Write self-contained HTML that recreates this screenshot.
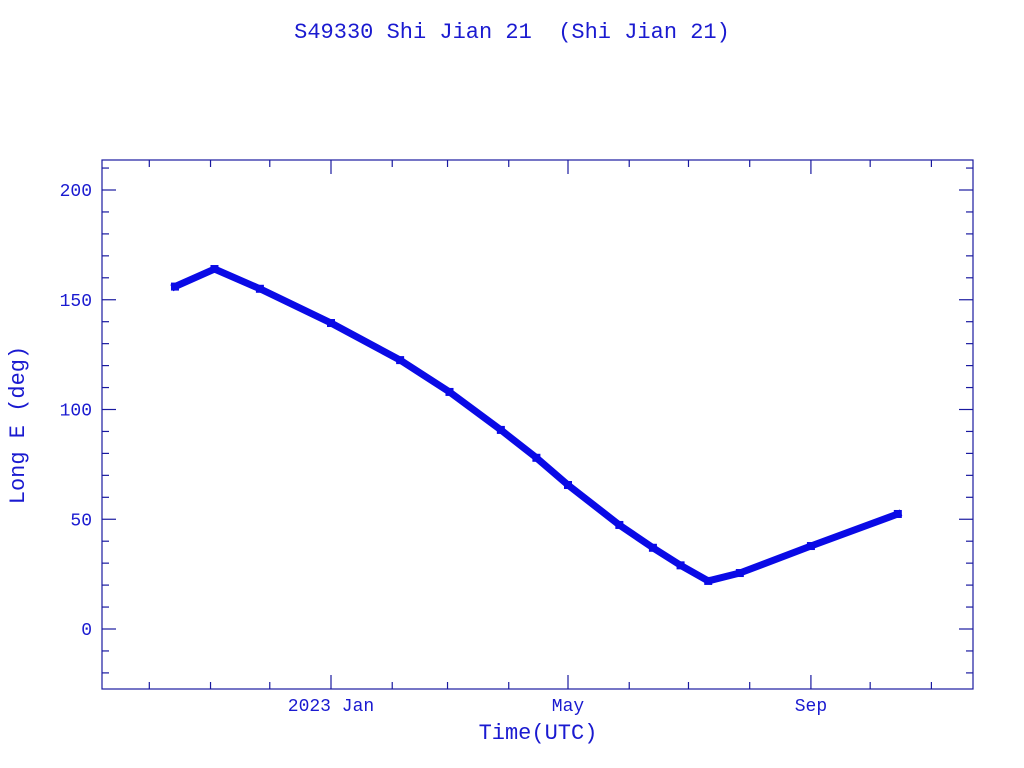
<!DOCTYPE html>
<html><head><meta charset="utf-8"><style>
body{margin:0;background:#fff;}
svg{display:block;font-family:"Liberation Mono",monospace;}
</style></head><body>
<svg id="chart" width="1024" height="768">
<text x="512" y="38" text-anchor="middle" font-size="22" fill="#1a1ad0" xml:space="preserve" style="white-space:pre">S49330 Shi Jian 21  (Shi Jian 21)</text>
<rect x="102" y="160" width="871" height="529" fill="none" stroke="#1a1aa0" stroke-width="1.2"/>
<g id="axes"></g>
<g id="series"></g>
<text x="538" y="739" text-anchor="middle" font-size="22" fill="#1a1ad0">Time(UTC)</text>
<text transform="translate(24,425) rotate(-90)" text-anchor="middle" font-size="22" fill="#1a1ad0">Long E (deg)</text>
</svg>
<script>
const days=[-79,-59,-36,0,35,60,86,104,120,146,163,177,191,207,243,287];
const longE=[156,164,155,139.4,122.5,108,90.7,78,65.6,47.4,37,29,21.9,25.5,37.8,52.4];
const yTicks=[0,50,100,150,200];
const xTickDays=[0,120,243];
const xTickLabels=["2023 Jan","May","Sep"];
const xMinorDays=[-92,-61,-31,31,59,90,151,181,212,273,304];
const NS="http://www.w3.org/2000/svg";
const X0=102,X1=973,Y0=160,Y1=689;
const xs=d=>331+d*1.975;
const ys=v=>629-v*2.195;
const axes=document.getElementById('axes'),series=document.getElementById('series');
function mk(tag,attrs,parent){const e=document.createElementNS(NS,tag);for(const k in attrs)e.setAttribute(k,attrs[k]);parent.appendChild(e);return e;}
const col="#1a1aa0";
for(let v=-20;v<=210;v+=10){
  const y=ys(v);if(y<Y0||y>Y1)continue;
  const major=v%50===0;const L=major?14:7;
  const t1=mk('line',{x1:X0,x2:X0+L,y1:y,y2:y,stroke:col,'stroke-width':1.2},axes);
  
  
  const t2=mk('line',{x1:X1-L,x2:X1,y1:y,y2:y,stroke:col,'stroke-width':1.2},axes);
  
  
}
yTicks.forEach(v=>{
  const t=mk('text',{x:92,y:ys(v)+6,'text-anchor':'end','font-size':18,fill:'#1a1ad0'},axes);
  t.textContent=v;
  
  
});
xMinorDays.forEach(d=>{
  const x=xs(d);
  if(x<=X0||x>=X1)return;
  const a=mk('line',{x1:x,x2:x,y1:Y1,y2:Y1-7,stroke:col,'stroke-width':1.2},axes);
  
  
  const b=mk('line',{x1:x,x2:x,y1:Y0,y2:Y0+7,stroke:col,'stroke-width':1.2},axes);
  
  
});
xTickDays.forEach((d,i)=>{
  const x=xs(d);
  const a=mk('line',{x1:x,x2:x,y1:Y1,y2:Y1-14,stroke:col,'stroke-width':1.2},axes);
  
  
  const b=mk('line',{x1:x,x2:x,y1:Y0,y2:Y0+14,stroke:col,'stroke-width':1.2},axes);
  
  
  const t=mk('text',{x:x,y:711,'text-anchor':'middle','font-size':18,fill:'#1a1ad0'},axes);
  t.textContent=xTickLabels[i];
  
  
});
const pts=days.map((d,i)=>xs(d)+','+ys(longE[i])).join(' ');
const pl=mk('polyline',{points:pts,fill:'none',stroke:'#0a0ae6','stroke-width':7,'stroke-linejoin':'round','stroke-linecap':'square'},series);


days.forEach((d,i)=>{
  const r=mk('rect',{x:xs(d)-4,y:ys(longE[i])-4,width:8,height:8,fill:'#0a0ae6'},series);
  
  
});
</script>
</body></html>
